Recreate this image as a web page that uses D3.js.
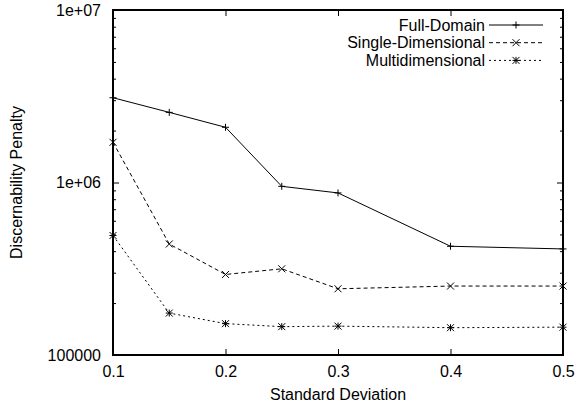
<!DOCTYPE html>
<html>
<head>
<meta charset="utf-8">
<script src="https://cdn.jsdelivr.net/npm/d3@7"></script>
<style>
  body { margin: 0; background: #fff; }
  svg text { font-family: "Liberation Sans", Arial, sans-serif; fill: #000; }
</style>
</head>
<body>
<svg id="chart" width="578" height="406"></svg>
<script>
// data
const deviations = [0.1, 0.15, 0.2, 0.25, 0.3, 0.4, 0.5];
const fullDomain = [3.1e6, 2.55e6, 2.09e6, 9.5e5, 8.7e5, 4.27e5, 4.12e5];
const singleDimensional = [1.71e6, 4.4e5, 2.93e5, 3.16e5, 2.42e5, 2.51e5, 2.51e5];
const multidimensional = [4.93e5, 1.75e5, 1.52e5, 1.46e5, 1.47e5, 1.44e5, 1.45e5];

const seriesNames = ['Full-Domain', 'Single-Dimensional', 'Multidimensional'];
const xTicks = [0.1, 0.2, 0.3, 0.4, 0.5];
const yTicks = [1e5, 1e6, 1e7];
const yTickLabels = ['100000', '1e+06', '1e+07'];

const margin = {top: 10, right: 15, bottom: 51, left: 113};
const width = 578 - margin.left - margin.right,
      height = 406 - margin.top - margin.bottom;

const svg = d3.select('#chart');
const g = svg.append('g')
    .attr('transform', `translate(${margin.left},${margin.top})`);

const x = d3.scaleLinear().domain([0.1, 0.5]).range([0, width]);
const y = d3.scaleLog().domain([1e5, 1e7]).range([height, 0]);

// minor ticks 2..9 in every decade
const yMinor = [];
[1e5, 1e6].forEach(d => { for (let k = 2; k < 10; k++) yMinor.push(d * k); });

const fontSize = '16px';

function styleAxis(sel) {
    sel.select('.domain').remove();
    sel.selectAll('line').attr('stroke', '#000').attr('stroke-width', 1);
    sel.selectAll('text').style('font-size', fontSize);
}

// bottom
g.append('g')
    .attr('transform', `translate(0,${height})`)
    .call(d3.axisBottom(x).tickValues(xTicks).tickFormat(d3.format('.1f'))
        .tickSizeInner(-6).tickSizeOuter(0).tickPadding(11))
    .call(styleAxis);

// top
g.append('g')
    .call(d3.axisTop(x).tickValues(xTicks).tickFormat('')
        .tickSizeInner(-6).tickSizeOuter(0))
    .call(styleAxis);

// left
g.append('g')
    .call(d3.axisLeft(y).tickValues(yTicks).tickFormat((d, i) => yTickLabels[i])
        .tickSizeInner(-6).tickSizeOuter(0).tickPadding(12))
    .call(styleAxis);
g.append('g')
    .call(d3.axisLeft(y).tickValues(yMinor).tickFormat('')
        .tickSizeInner(-3).tickSizeOuter(0))
    .call(styleAxis);

// right
g.append('g')
    .attr('transform', `translate(${width},0)`)
    .call(d3.axisRight(y).tickValues(yTicks).tickFormat('')
        .tickSizeInner(-6).tickSizeOuter(0))
    .call(styleAxis);
g.append('g')
    .attr('transform', `translate(${width},0)`)
    .call(d3.axisRight(y).tickValues(yMinor).tickFormat('')
        .tickSizeInner(-3).tickSizeOuter(0))
    .call(styleAxis);

// frame
g.append('rect')
    .attr('width', width)
    .attr('height', height)
    .attr('fill', 'none')
    .attr('stroke', '#000')
    .attr('stroke-width', 2);

// axis titles
g.append('text')
    .attr('x', width / 2)
    .attr('y', height + 45)
    .attr('text-anchor', 'middle')
    .style('font-size', fontSize)
    .text('Standard Deviation');

g.append('text')
    .attr('transform', `translate(${22 - margin.left},${height / 2}) rotate(-90)`)
    .attr('text-anchor', 'middle')
    .style('font-size', fontSize)
    .text('Discernability Penalty');

// point markers, gnuplot style
const markers = {
    plus: s => `M${-s},0H${s}M0,${-s}V${s}`,
    cross: s => `M${-s},${-s}L${s},${s}M${-s},${s}L${s},${-s}`,
    star: s => `M${-s},0H${s}M0,${-s}V${s}M${-s},${-s}L${s},${s}M${-s},${s}L${s},${-s}`
};

const series = [
    {name: seriesNames[0], values: fullDomain, dash: null, marker: 'plus'},
    {name: seriesNames[1], values: singleDimensional, dash: '4,3', marker: 'cross'},
    {name: seriesNames[2], values: multidimensional, dash: '2,3', marker: 'star'}
];

const line = d3.line()
    .x((d, i) => x(deviations[i]))
    .y(d => y(d));

series.forEach(s => {
    g.append('path')
        .datum(s.values)
        .attr('d', line)
        .attr('fill', 'none')
        .attr('stroke', '#000')
        .attr('stroke-width', 1)
        .attr('stroke-dasharray', s.dash);

    g.selectAll(null)
        .data(s.values)
        .enter()
        .append('path')
            .attr('transform', (d, i) => `translate(${x(deviations[i])},${y(d)})`)
            .attr('d', markers[s.marker](3.5))
            .attr('fill', 'none')
            .attr('stroke', '#000')
            .attr('stroke-width', 1);
});

// legend
const legend = g.append('g')
    .attr('transform', `translate(${485 - margin.left},${25 - margin.top})`);

const row = legend.selectAll('.row')
    .data(series)
    .enter()
    .append('g')
        .attr('class', 'row')
        .attr('transform', (d, i) => `translate(0,${i * 17.7})`);

row.append('text')
    .attr('text-anchor', 'end')
    .attr('dy', '0.35em')
    .style('font-size', fontSize)
    .text(d => d.name);

row.append('line')
    .attr('x1', 4)
    .attr('x2', 58)
    .attr('stroke', '#000')
    .attr('stroke-width', 1)
    .attr('stroke-dasharray', d => d.dash);

row.append('path')
    .attr('transform', 'translate(31,0)')
    .attr('d', d => markers[d.marker](3.5))
    .attr('fill', 'none')
    .attr('stroke', '#000')
    .attr('stroke-width', 1);
</script>
</body>
</html>
